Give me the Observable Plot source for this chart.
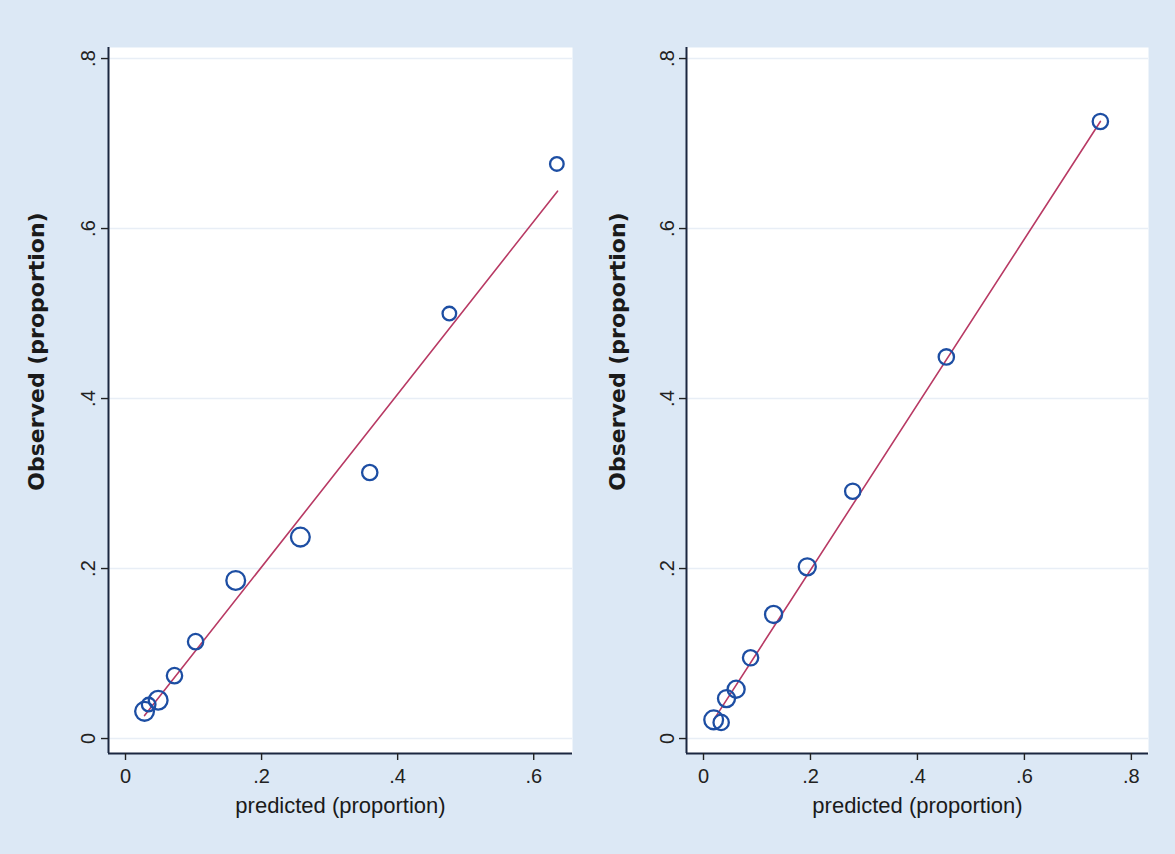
<!DOCTYPE html>
<html>
<head>
<meta charset="utf-8">
<script src="https://cdn.jsdelivr.net/npm/d3@7"></script>
<script src="https://cdn.jsdelivr.net/npm/@observablehq/plot@0.6"></script>
<style>
  html, body { margin: 0; padding: 0; background: #dce8f5; }
  #wrap { display: flex; width: 1175px; height: 854px; overflow: hidden; }
  #wrap svg { display: block; }
</style>
</head>
<body>
<div id="wrap"></div>
<script>
// ---- data ----
const leftPredicted = [0.028, 0.034, 0.048, 0.072, 0.103, 0.162, 0.257, 0.359, 0.476, 0.634];
const leftObserved  = [0.032, 0.040, 0.045, 0.074, 0.114, 0.186, 0.237, 0.313, 0.500, 0.676];
const leftWeight    = [9, 6, 9, 7, 7, 9, 9, 7, 6, 6];
const leftFitX = [0.028, 0.635];
const leftFitY = [0.027, 0.644];

const rightPredicted = [0.019, 0.033, 0.043, 0.061, 0.088, 0.131, 0.194, 0.279, 0.454, 0.742];
const rightObserved  = [0.022, 0.019, 0.047, 0.058, 0.095, 0.146, 0.202, 0.291, 0.449, 0.726];
const rightWeight    = [9, 7, 8, 8, 7, 8, 8, 7, 7, 7];
const rightFitX = [0.019, 0.742];
const rightFitY = [0.022, 0.726];

const yTicks = [0, 0.2, 0.4, 0.6, 0.8];
const yTickLabels = ["0", ".2", ".4", ".6", ".8"];
const leftXTicks = [0, 0.2, 0.4, 0.6];
const leftXTickLabels = ["0", ".2", ".4", ".6"];
const rightXTicks = [0, 0.2, 0.4, 0.6, 0.8];
const rightXTickLabels = ["0", ".2", ".4", ".6", ".8"];
const xTitle = "predicted (proportion)";
const yTitle = "Observed (proportion)";

// ---- drawing ----
const axisColor = "#1b2740";
const dotColor = "#1d4ea3";
const fitColor = "#b83a64";
const gridColor = "#e8eef6";
const yDomain = [-0.0176, 0.813];

function panel(o) {
  const pts = o.pred.map((p, i) => ({p, q: o.obs[i], w: o.weight[i]}));
  const fit = o.fitX.map((x, i) => ({x, y: o.fitY[i]}));
  return Plot.plot({
    width: o.width,
    height: 854,
    marginTop: 47,
    marginBottom: 101,
    marginLeft: o.marginLeft,
    marginRight: o.marginRight,
    style: {background: "transparent", fontFamily: "Liberation Sans, Arial, sans-serif", overflow: "visible"},
    x: {domain: o.xDomain},
    y: {domain: yDomain},
    r: {type: "linear", domain: [6, 9], range: [6.8, 9.4]},
    marks: [
      Plot.frame({fill: "white", stroke: null}),
      Plot.gridY(yTicks, {stroke: gridColor, strokeOpacity: 1, strokeWidth: 1.5}),
      Plot.line(fit, {x: "x", y: "y", stroke: fitColor, strokeWidth: 1.6}),
      Plot.dot(pts, {x: "p", y: "q", r: "w", stroke: dotColor, strokeWidth: 2.3, fill: "none"}),
      Plot.ruleX([o.xDomain[0]], {stroke: axisColor, strokeWidth: 2}),
      Plot.ruleY([yDomain[0]], {stroke: axisColor, strokeWidth: 2}),
      Plot.axisX({ticks: o.xTicks, tickFormat: (d) => o.xLabels[o.xTicks.indexOf(d)], tickSize: 7, tickPadding: 8,
        label: null, fontSize: 20, color: "#222", strokeWidth: 1.4}),
      Plot.axisY({ticks: yTicks, tickFormat: () => "", tickSize: 7, label: null, color: "#222", strokeWidth: 1.4}),
      Plot.text(yTicks, {y: (d) => d, text: (d, i) => yTickLabels[i], frameAnchor: "left", textAnchor: "middle",
        dx: o.yLabelDx, rotate: -90, fontSize: 20, fill: "#222"}),
      Plot.text([yTitle], {text: (d) => d, frameAnchor: "left", textAnchor: "middle", dx: o.yTitleDx, dy: -49,
        rotate: -90, fontSize: 22, fontWeight: "bold", fontFamily: "DejaVu Sans, sans-serif", fill: "#1a1a1a"}),
      Plot.text([xTitle], {text: (d) => d, frameAnchor: "bottom", dy: 59, fontSize: 22, fill: "#1a1a1a"})
    ]
  });
}

const wrap = document.getElementById("wrap");
wrap.append(panel({
  pred: leftPredicted, obs: leftObserved, weight: leftWeight, fitX: leftFitX, fitY: leftFitY,
  xTicks: leftXTicks, xLabels: leftXTickLabels, xDomain: [-0.025, 0.657],
  width: 587, marginLeft: 108, marginRight: 15, yLabelDx: -20, yTitleDx: -72
}));
wrap.append(panel({
  pred: rightPredicted, obs: rightObserved, weight: rightWeight, fitX: rightFitX, fitY: rightFitY,
  xTicks: rightXTicks, xLabels: rightXTickLabels, xDomain: [-0.0318, 0.832],
  width: 588, marginLeft: 99, marginRight: 27, yLabelDx: -19, yTitleDx: -69
}));
</script>
</body>
</html>
